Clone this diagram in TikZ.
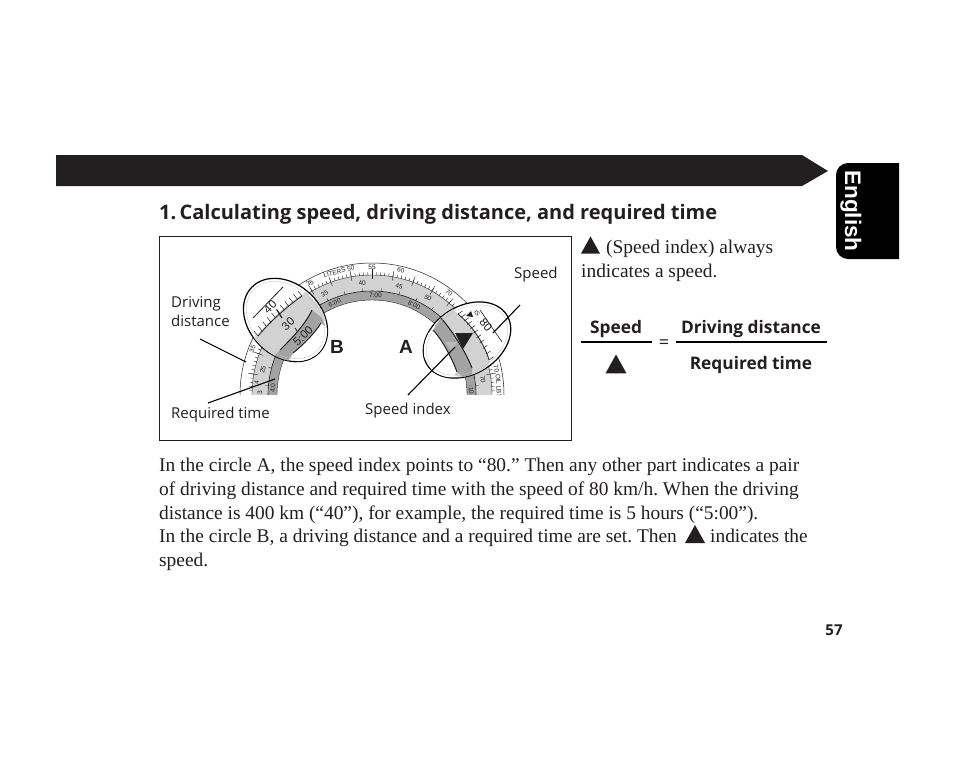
\documentclass[tikz,border=0pt]{standalone}
\usepackage{fontspec}
\setmainfont{Liberation Serif}
\newfontfamily\sn{Open Sans}
\newfontfamily\hv{Liberation Sans}
\usetikzlibrary{shapes.geometric}
\definecolor{ink}{HTML}{231F20}
\definecolor{lt}{HTML}{D2D2D2}
\definecolor{dk}{HTML}{A3A3A3}
\tikzset{
 para/.style={anchor=base west,inner sep=0,font=\fontsize{19.4}{21}\selectfont,text=ink},
 lab/.style={anchor=base west,inner sep=0,font=\sn\fontsize{15}{17}\selectfont,text=ink},
 frm/.style={anchor=base,inner sep=0,font=\sn\bfseries\fontsize{17.3}{19}\selectfont,text=ink},
 tiny/.style={inner sep=0,font=\hv\fontsize{6.5}{7}\selectfont,text=ink},
 lead/.style={draw=black,line width=1.1pt},
 tick/.style={draw=ink,line width=.4pt},
 magtext/.style={inner sep=0,text=ink,font=\hv\fontsize{11.5}{13}\selectfont},
}
\newcommand{\trig}[3]{\fill[ink] (#1-#3,#2+#3*.9) -- (#1+#3,#2+#3*.9) -- (#1,#2-#3*.9) -- cycle;}
\newcommand{\arclab}[4][tiny]{\node[#1,rotate=#3-90] at ({372+#2*cos(#3)},{395-#2*sin(#3)}) {#4};}
\frenchspacing
\begin{document}
\begin{tikzpicture}[x=1pt,y=-1pt]
\useasboundingbox (0,0) rectangle (954,772);
\fill[white] (0,0) rectangle (954,772);
% header
\fill[ink] (56,155) -- (802,155) -- (828,171) -- (802,186) -- (56,186) -- cycle;
\fill[black] (899,163) -- (848,163) arc[start angle=270,end angle=180,radius=12] -- (836,247) arc[start angle=180,end angle=90,radius=12] -- (899,259) -- cycle;
\node[rotate=-90,inner sep=0,text=white,font=\hv\bfseries\fontsize{22.5}{24}\selectfont] (eng) at (851,211) {English};
\node[anchor=base west,inner sep=0,text=ink,font=\sn\bfseries\fontsize{20}{22}\selectfont] (title) at (159,219) {1.\,Calculating speed, driving distance, and required time};
% frame
\draw[ink,line width=.7pt] (159.5,236) rectangle (571.5,440.5);
% dial
\begin{scope}
\clip (230,250) rectangle (510,394);
\draw[ink,line width=.5pt] (372,395) circle[radius=132];
\fill[lt] (372,395) circle[radius=120];
\fill[dk] (372,395) circle[radius=104];
\draw[ink,line width=.6pt] (372,395) circle[radius=104];
\fill[white] (372,395) circle[radius=95];
\draw[ink,line width=.4pt] (372,395) circle[radius=95];
\draw[ink,line width=.4pt] (372,395) circle[radius=120];
\foreach \a in {-2,0,...,182}{\draw[tick] ({372+120*cos(\a)},{395-120*sin(\a)}) -- ({372+123*cos(\a)},{395-123*sin(\a)});}
\foreach \a in {0,10,...,180}{\draw[tick] ({372+116*cos(\a)},{395-116*sin(\a)}) -- ({372+126*cos(\a)},{395-126*sin(\a)});}
\foreach \a in {5,15,...,175}{\draw[tick] ({372+104*cos(\a)},{395-104*sin(\a)}) -- ({372+107*cos(\a)},{395-107*sin(\a)});}
\arclab{128}{90}{55}
\arclab{128}{77}{60}
\arclab{128}{53}{70}
\arclab{128}{105}{LITERS 50}
\arclab{128}{119}{35}
\arclab{112}{115}{35}
\arclab{112}{95}{40}
\arclab{112}{76}{45}
\arclab{112}{60}{50}
\arclab{99.5}{112}{6:00}
\arclab{99.5}{88}{7:00}
\arclab{99.5}{65}{8:00}
\arclab{128}{159}{35}
\arclab{112}{167}{25}
\arclab{116}{174}{4}
\arclab{112}{179}{3}
\arclab{99.5}{176}{4:0}
\arclab{127}{12}{70}
\arclab{127}{4}{OIL LBS}
\arclab{112}{8}{70}
\arclab{99.5}{3}{:10}
\end{scope}
% circle B
\node[ellipse,draw=black,fill=white,line width=1.2pt,minimum width=94pt,minimum height=72pt,rotate=-44,inner sep=0] (cb) at (285.5,320) {};
\begin{scope}
\clip (285.5,320) ellipse[x radius=46.5,y radius=35.5,rotate=-44];
\fill[lt] (250,343) .. controls (270,320) and (285,305) .. (306,292) -- (330,318) .. controls (320,322) and (300,345) .. (285,365) -- cycle;
\fill[dk] (272,358) -- (280,350) .. controls (292,338) and (305,325) .. (312,310) -- (322,318) -- (325,325) .. controls (315,335) and (305,345) .. (293,353) -- (285,365) -- cycle;
\fill[white] (293,353) .. controls (303,345) and (315,333) .. (321,323) -- (340,340) -- (300,370) -- cycle;
\draw[ink,line width=.8pt] (258,336) .. controls (270,322) and (285,308) .. (302,296);
\draw[ink,line width=1pt] (280,350) .. controls (292,338) and (305,325) .. (312,310);
\draw[ink,line width=1pt] (293,353) .. controls (303,345) and (315,333) .. (321,323);
\draw[ink,line width=.8pt] (253,318) -- (283,287);
\foreach \t in {0,.1,...,1.01}{
 \pgfmathsetmacro\px{258+44*\t}\pgfmathsetmacro\py{336-40*\t-2*sin(180*\t)}
 \draw[ink,line width=.5pt] (\px,\py) -- (\px-4,\py-5);}
\draw[ink,line width=1.2pt] (282,318) -- (277,310);
\draw[ink,line width=.8pt] (298,332) -- (295,328);
\node[magtext,rotate=44] at (270,307) {40};
\node[magtext,rotate=44] at (288,324) {30};
\node[magtext,rotate=44] at (303,336) {5:00};
\draw[lightgray,line width=.3pt] (285.5,320) ellipse[x radius=44,y radius=33,rotate=-44];
\end{scope}
% circle A
\node[ellipse,draw=black,fill=white,line width=1.2pt,minimum width=94pt,minimum height=68pt,rotate=32,inner sep=0] (ca) at (467,340) {};
\begin{scope}
\clip (467,340) ellipse[x radius=46.5,y radius=33.5,rotate=32];
\fill[lt] (448,305) -- (458,314) .. controls (472,325) and (485,345) .. (490,362) -- (475,385) -- (455,375) .. controls (452,350) and (440,335) .. (431,320) -- cycle;
\fill[dk] (441,318) .. controls (450,328) and (465,350) .. (472,368) -- (472,385) -- (457,372) .. controls (452,358) and (441,338) .. (433,330) -- cycle;
\fill[white] (433,330) .. controls (441,338) and (452,358) .. (457,372) -- (440,385) -- (415,340) -- cycle;
\draw[ink,line width=.8pt] (458,314) .. controls (472,325) and (485,345) .. (489,360);
\draw[ink,line width=1pt] (441,318) .. controls (450,328) and (465,350) .. (472,368);
\draw[ink,line width=1pt] (433,330) .. controls (441,338) and (452,358) .. (457,372);
\draw[ink,line width=.6pt] (480,310) -- (502,342);
\foreach \t in {0,.1,...,1.01}{
 \pgfmathsetmacro\px{458+31*\t}\pgfmathsetmacro\py{314+46*\t-4*sin(180*\t)}
 \draw[ink,line width=.5pt] (\px,\py) -- (\px+4.5,\py-3);}
\fill[dk!75!white] (445,342) -- (457,342) -- (452,352) -- cycle;
\fill[ink] (455,333) -- (473,333) -- (463,349) -- cycle;
\fill[ink] (466,316) -- (471,311) -- (473,317) -- cycle;
\node[magtext,rotate=-50] at (486,325) {80};
\node[inner sep=0,rotate=-50,text=ink,font=\hv\fontsize{6}{7}\selectfont] at (477,313) {IS};
\draw[lightgray,line width=.3pt] (467,340) ellipse[x radius=44,y radius=31,rotate=32];
\end{scope}
% labels
\node[lab] (ld1) at (171,307) {Driving};
\node[lab] (ld2) at (171,326) {distance};
\node[lab] (lr) at (171,418) {Required time};
\node[lab] (li) at (365,414) {Speed index};
\node[lab] (ls) at (514,278) {Speed};
\node[anchor=base,inner sep=0,font=\hv\bfseries\fontsize{19}{20}\selectfont,text=ink] (lb) at (337,353) {B};
\node[anchor=base,inner sep=0,font=\hv\bfseries\fontsize{19}{20}\selectfont,text=ink] (la) at (406,353) {A};
% leaders
\coordinate (d0) at (200,339); \coordinate (d1) at (246,362);
\coordinate (r0) at (208,403); \coordinate (r1) at (275,379);
\coordinate (s0) at (520,305); \coordinate (s1) at (493,333);
\coordinate (i0) at (408,395); \coordinate (i1) at (455,347);
\draw[lead] (d0) -- (d1);
\draw[lead] (r0) -- (r1);
\draw[lead] (s0) -- (s1);
\draw[lead] (i0) -- (i1);
% right
\trig{590.5}{245}{9.5}
\node[para] (t1) at (606,253) {(Speed index) always};
\node[para] (t2) at (581,277) {indicates a speed.};
\node[frm] (fs) at (616,333) {Speed};
\node[frm] (fd) at (751,333) {Driving distance};
\node[frm] (ft) at (751,369) {Required time};
\node[anchor=base,inner sep=0,font=\sn\fontsize{18}{20}\selectfont,text=ink] (eq) at (664,348) {=};
\draw[black,line width=1.2pt] (581,342) -- (652,342);
\draw[black,line width=1.2pt] (676,342) -- (827,342);
\trig{616}{364}{10.5}
% paragraph
\node[para] (p1) at (159,471) {In the circle A, the speed index points to “80.” Then any other part indicates a pair};
\node[para] (p2) at (159,495) {of driving distance and required time with the speed of 80 km/h. When the driving};
\node[para] (p3) at (159,519) {distance is 400 km (“40”), for example, the required time is 5 hours (“5:00”).};
\node[para] (p4) at (159,542) {In the circle B, a driving distance and a required time are set. Then};
\trig{695}{534}{10}
\node[para] (p4b) at (710,542) {indicates the};
\node[para] (p5) at (159,566) {speed.};
\node[anchor=base,inner sep=0,text=ink,font=\sn\bfseries\fontsize{15}{16}\selectfont] (pg) at (834,635) {57};
\end{tikzpicture}
\end{document}
